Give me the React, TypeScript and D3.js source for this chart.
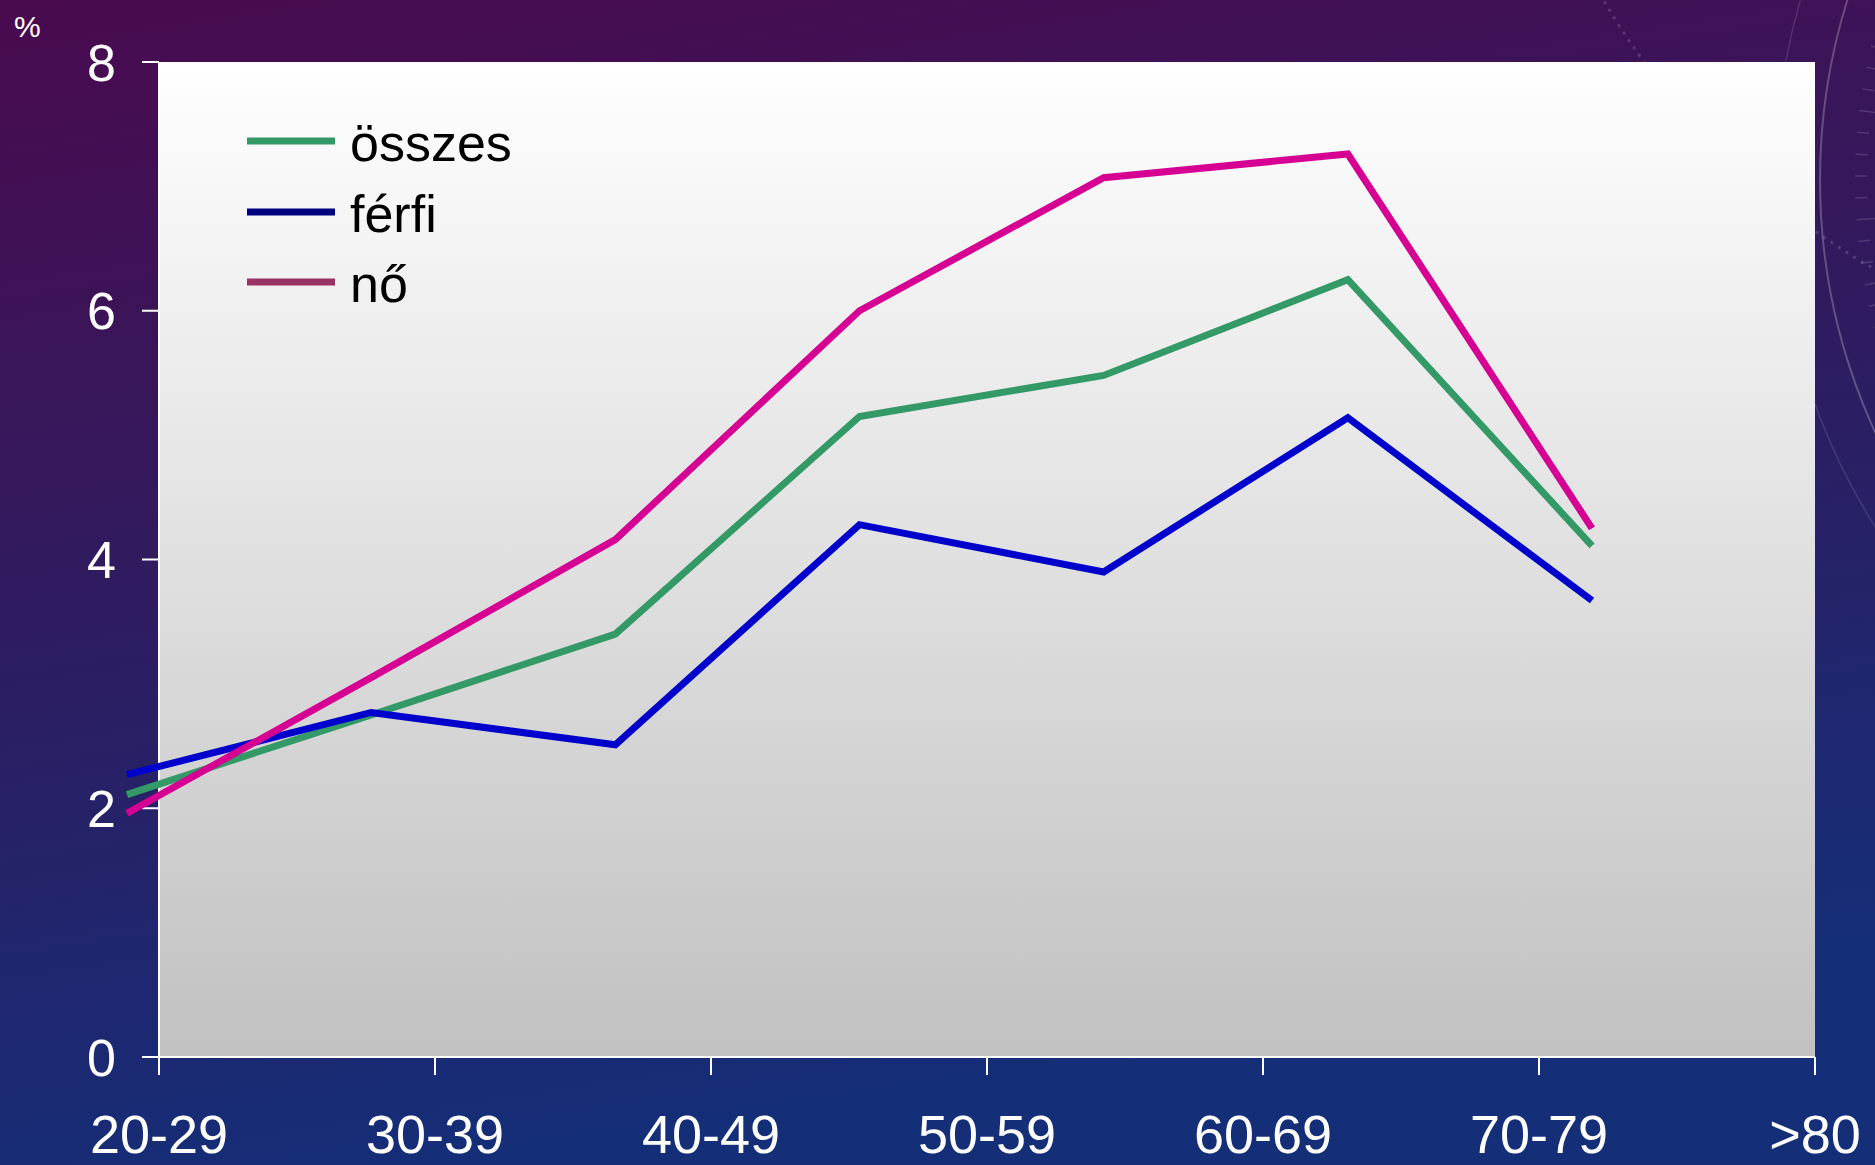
import React from "react";
import * as d3 from "d3";

// Age groups and prevalence (%) per group
const ageGroups = ["20-29", "30-39", "40-49", "50-59", "60-69", "70-79", ">80"];
const osszes = [2.11, 2.75, 3.4, 5.15, 5.48, 6.25, 4.11];
const ferfi = [2.27, 2.77, 2.51, 4.28, 3.9, 5.14, 3.67];
const no = [1.96, 3.05, 4.16, 6.0, 7.07, 7.26, 4.25];
const yTicks = [0, 2, 4, 6, 8];

const seriesList = [
  { name: "összes", values: osszes, color: "#339966", legendColor: "#339966" },
  { name: "férfi", values: ferfi, color: "#0000CC", legendColor: "#000080" },
  { name: "nő", values: no, color: "#D60093", legendColor: "#993366" },
];

const W = 1875;
const H = 1165;
const plot = { left: 159, right: 1815, top: 62, bottom: 1057 };
const FONT = "'Liberation Sans', Arial, Helvetica, sans-serif";

export default function App() {
  const y = d3.scaleLinear().domain([0, 8]).range([plot.bottom, plot.top]);
  const xAxis = d3.scalePoint<string>().domain(ageGroups).range([plot.left, plot.right]);
  const xLine = d3.scalePoint<string>().domain(ageGroups).range([127, 1592]);

  const line = d3
    .line<number>()
    .x((_, i) => xLine(ageGroups[i]) as number)
    .y((v) => y(v));

  // compass decoration on the right edge
  const cx = 2425;
  const cy = 180;
  const ringTicks = d3.range(0, 360, 2.2);

  return (
    <div style={{ position: "absolute", left: 0, top: 0 }}>
      <svg width={W} height={H} style={{ display: "block" }}>
        <defs>
          <linearGradient id="bg" x1="0" y1="0" x2="0.25" y2="1">
            <stop offset="0" stopColor="#4a0a4f" />
            <stop offset="0.45" stopColor="#321a5e" />
            <stop offset="1" stopColor="#142e78" />
          </linearGradient>
          <linearGradient id="plotBg" x1="0" y1="0" x2="0" y2="1">
            <stop offset="0" stopColor="#ffffff" />
            <stop offset="1" stopColor="#c1c1c1" />
          </linearGradient>
        </defs>

        <rect x={0} y={0} width={W} height={H} fill="url(#bg)" />

        {/* background compass */}
        <g fill="none" stroke="#ffffff">
          <circle cx={cx} cy={cy} r={605} strokeOpacity={0.24} strokeWidth={2} />
          <circle cx={cx} cy={cy} r={650} strokeOpacity={0.12} strokeWidth={1.5} />
          <circle cx={2250} cy={-380} r={750} strokeOpacity={0.15} strokeWidth={3} strokeDasharray="3 6" />
          {ringTicks.map((a) => {
            const r0 = 570;
            const r1 = a % 11 < 2.2 ? 545 : 558;
            const t = (a * Math.PI) / 180;
            return (
              <line
                key={a}
                x1={cx + r0 * Math.cos(t)}
                y1={cy + r0 * Math.sin(t)}
                x2={cx + r1 * Math.cos(t)}
                y2={cy + r1 * Math.sin(t)}
                strokeOpacity={0.14}
                strokeWidth={1.5}
              />
            );
          })}
        </g>

        {/* plot area */}
        <rect
          x={plot.left}
          y={plot.top}
          width={plot.right - plot.left}
          height={plot.bottom - plot.top}
          fill="url(#plotBg)"
        />

        {/* axes */}
        <g stroke="#ffffff" strokeWidth={2} fill="none">
          <line x1={plot.left} y1={plot.top} x2={plot.left} y2={plot.bottom} />
          <line x1={plot.left} y1={plot.bottom} x2={plot.right} y2={plot.bottom} />
          {yTicks.map((t) => (
            <line key={t} x1={plot.left - 17} x2={plot.left} y1={y(t)} y2={y(t)} />
          ))}
          {ageGroups.map((g) => (
            <line
              key={g}
              x1={xAxis(g)}
              x2={xAxis(g)}
              y1={plot.bottom}
              y2={plot.bottom + 18}
            />
          ))}
        </g>

        <g fill="#ffffff" fontFamily={FONT} fontSize={52}>
          {yTicks.map((t) => (
            <text key={t} x={116} y={y(t)} dy="0.36em" textAnchor="end">
              {t}
            </text>
          ))}
          {ageGroups.map((g) => (
            <text key={g} x={xAxis(g)} y={1153} textAnchor="middle" fontSize={54}>
              {g}
            </text>
          ))}
          <text x={14} y={37} fontSize={30}>
            %
          </text>
        </g>

        {/* series lines */}
        {seriesList.map((s) => (
          <path
            key={s.name}
            d={line(s.values) as string}
            fill="none"
            stroke={s.color}
            strokeWidth={7}
            strokeLinejoin="miter"
            strokeLinecap="butt"
          />
        ))}

        {/* legend */}
        <g fontFamily={FONT} fontSize={52} fill="#000000">
          {seriesList.map((s, i) => {
            const ly = [141, 212, 282][i];
            return (
              <g key={s.name}>
                <line x1={247} x2={335} y1={ly} y2={ly} stroke={s.legendColor} strokeWidth={7} />
                <text x={350} y={ly + 20}>
                  {s.name}
                </text>
              </g>
            );
          })}
        </g>
      </svg>
    </div>
  );
}
